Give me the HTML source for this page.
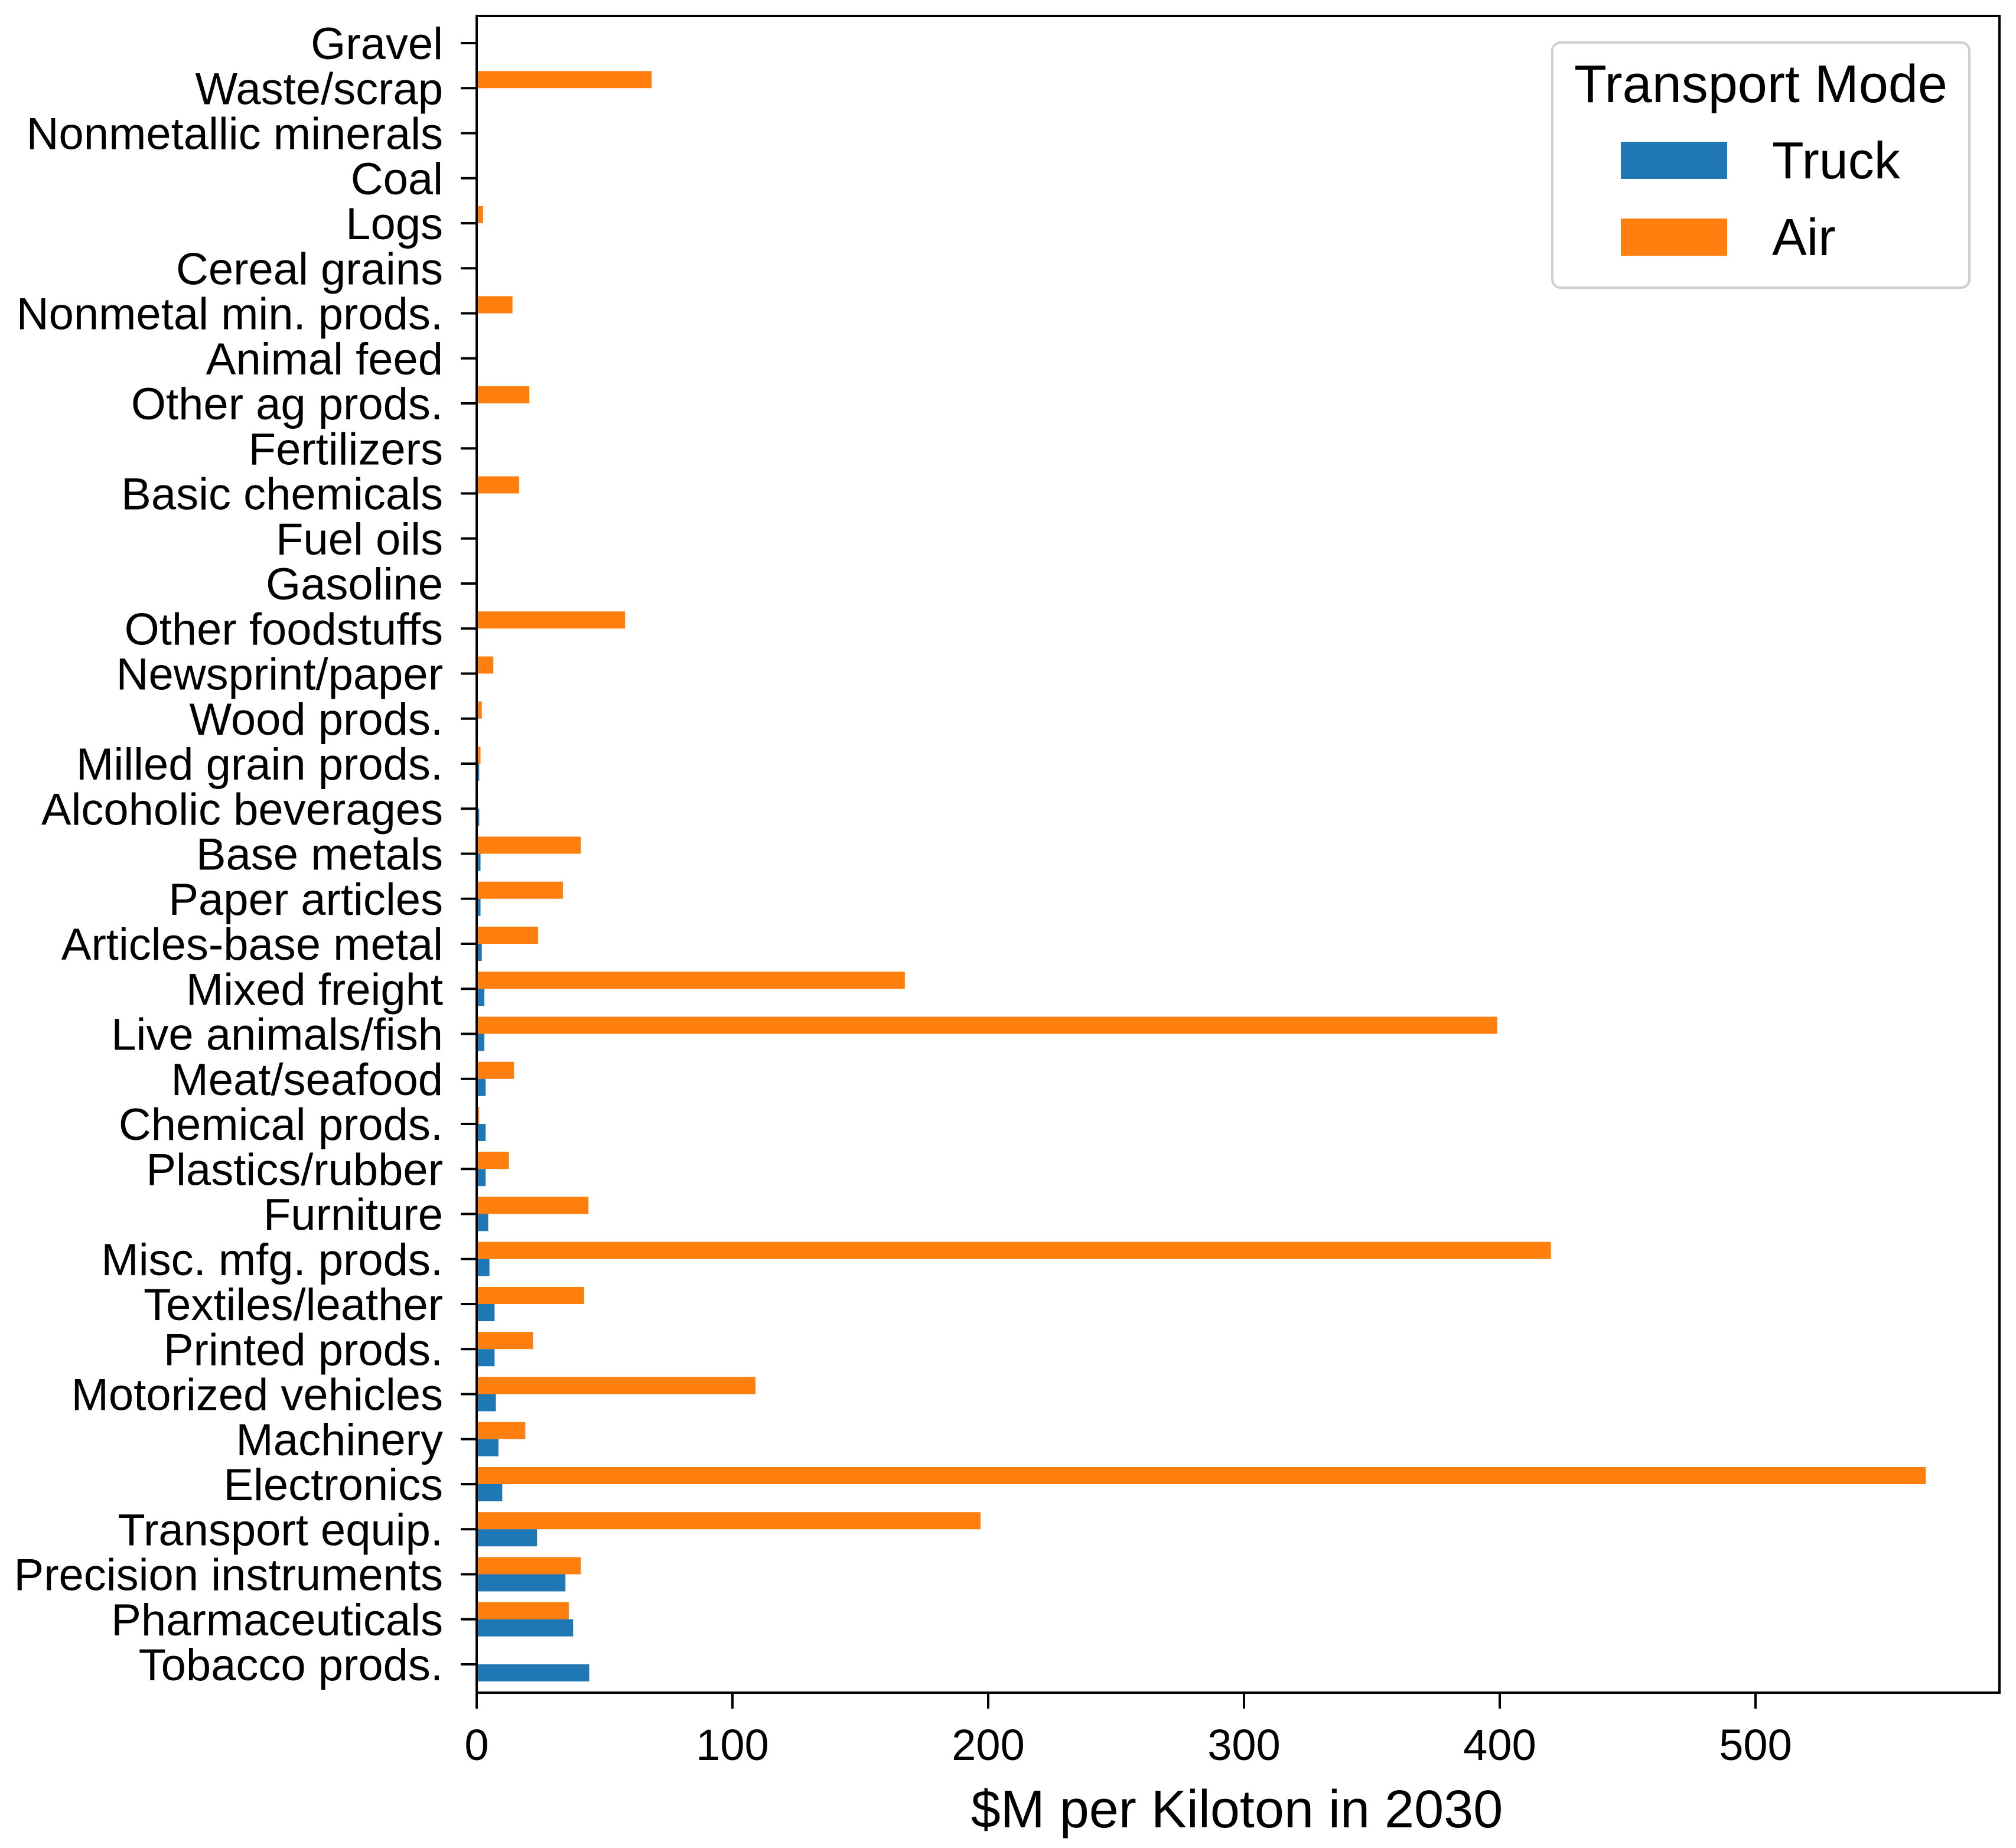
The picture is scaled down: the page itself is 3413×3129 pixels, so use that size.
<!DOCTYPE html>
<html><head><meta charset="utf-8"><style>
html,body{margin:0;padding:0;background:#fff;}
svg{display:block;font-family:"Liberation Sans",Arial,sans-serif;}
</style></head><body>
<svg id="chart" width="3413" height="3129" viewBox="0 0 3413 3129" xmlns="http://www.w3.org/2000/svg">
<rect width="3413" height="3129" fill="#fff"/>
<g id="bars"></g>
<g id="yaxis"></g>
<g id="xaxis"></g>
<rect x="807" y="27" width="2578" height="2839" fill="none" stroke="#000" stroke-width="4"/>
<text x="2094" y="3094" font-size="90" text-anchor="middle">$M per Kiloton in 2030</text>
<g>
<rect x="2628" y="72" width="706" height="415" rx="14" fill="#fff" stroke="#d0d0d0" stroke-width="4"/>
<text x="2981" y="173" font-size="90" text-anchor="middle">Transport Mode</text>
<rect x="2744" y="240" width="180" height="63" fill="#1f77b4"/>
<text x="3000" y="302" font-size="88">Truck</text>
<rect x="2744" y="370" width="180" height="63" fill="#ff7f0e"/>
<text x="3000" y="432" font-size="88">Air</text>
</g>
</svg>
<script>
const categories = ["Gravel","Waste/scrap","Nonmetallic minerals","Coal","Logs","Cereal grains","Nonmetal min. prods.","Animal feed","Other ag prods.","Fertilizers","Basic chemicals","Fuel oils","Gasoline","Other foodstuffs","Newsprint/paper","Wood prods.","Milled grain prods.","Alcoholic beverages","Base metals","Paper articles","Articles-base metal","Mixed freight","Live animals/fish","Meat/seafood","Chemical prods.","Plastics/rubber","Furniture","Misc. mfg. prods.","Textiles/leather","Printed prods.","Motorized vehicles","Machinery","Electronics","Transport equip.","Precision instruments","Pharmaceuticals","Tobacco prods."];
const truckValues = [0,0,0,0,0,0,0,0,0,0,0,0,0,0,0,0.5,1,1,1.5,1.5,2,3,3,3.5,3.5,3.5,4.5,5,7,7,7.5,8.5,10,23.6,34.7,37.7,44];
const airValues = [0,68.4,0,0,2.5,0,14,0,20.6,0,16.6,0,0,58,6.5,2,1.5,0.5,40.7,33.7,24,167.4,399,14.6,1,12.6,43.7,420,42,22,109,19,566.6,197,40.7,36,0];
const xTicks = [0,100,200,300,400,500];

const NS = "http://www.w3.org/2000/svg";
const X0 = 807, PX = 4.33, Y0 = 73, STEP = 76.25, BH = 29;
function xs(v){ return X0 + v*PX; }
function ys(i){ return Y0 + i*STEP; }
function mk(tag, attrs, parent){
  const e = document.createElementNS(NS, tag);
  for (const k in attrs) e.setAttribute(k, attrs[k]);
  parent.appendChild(e); return e;
}
const gb = document.getElementById('bars');
const gy = document.getElementById('yaxis');
const gx = document.getElementById('xaxis');
categories.forEach((c, i) => {
  const y = ys(i);
  if (airValues[i] > 0) {
    const r = mk('rect', {x: X0, y: y - BH, width: xs(airValues[i]) - X0, height: BH, fill: '#ff7f0e'}, gb);
    
    
  }
  if (truckValues[i] > 0) {
    const r = mk('rect', {x: X0, y: y, width: xs(truckValues[i]) - X0, height: BH, fill: '#1f77b4'}, gb);
    
    
  }
  const t = mk('line', {x1: 780, x2: 807, y1: y, y2: y, stroke: '#000', 'stroke-width': 4}, gy);
  
  
  const l = mk('text', {x: 750, y: y + 27, 'font-size': 76, 'text-anchor': 'end'}, gy);
  l.textContent = c;
  
  
});
xTicks.forEach(v => {
  const x = xs(v);
  const t = mk('line', {x1: x, x2: x, y1: 2866, y2: 2893, stroke: '#000', 'stroke-width': 4}, gx);
  
  
  const l = mk('text', {x: x, y: 2980, 'font-size': 74, 'text-anchor': 'middle'}, gx);
  l.textContent = v;
  
  
});
</script>
</body></html>
